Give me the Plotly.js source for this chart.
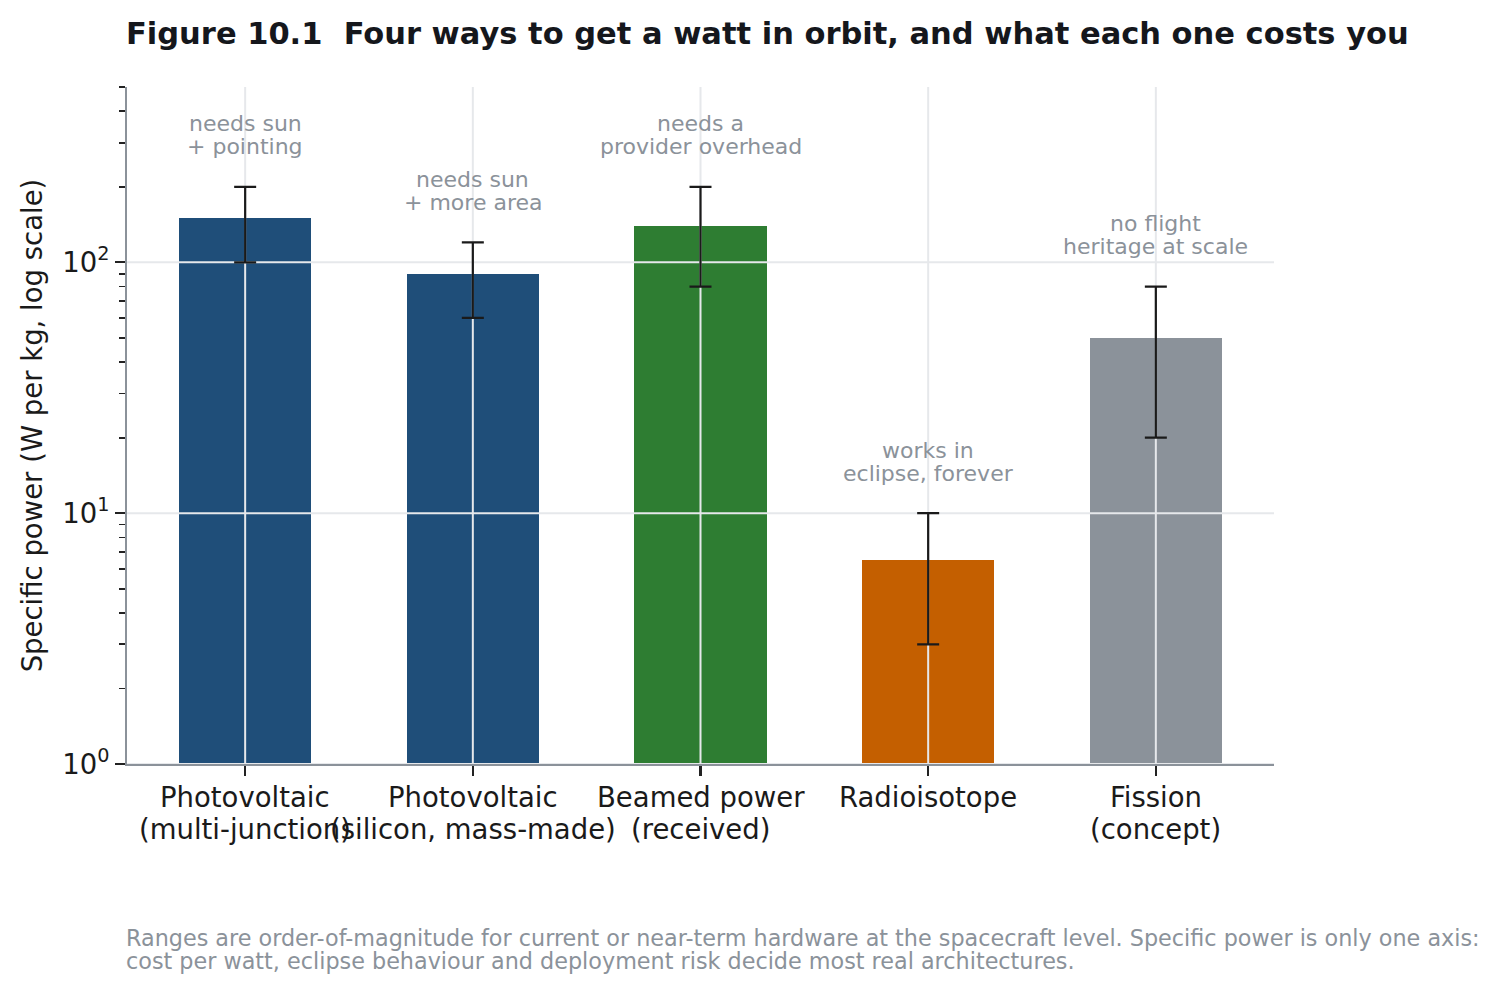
<!DOCTYPE html>
<html>
<head>
<meta charset="utf-8">
<script src="https://cdn.plot.ly/plotly-3.0.1.min.js"></script>
<style>
html,body{margin:0;padding:0;background:#fff;}
#chart{width:1500px;height:992px;}
</style>
</head>
<body>
<div id="chart"></div>
<script>
// ---- data ----
const categories = [
  ["Photovoltaic", "(multi-junction)"],
  ["Photovoltaic", "(silicon, mass-made)"],
  ["Beamed power", "(received)"],
  ["Radioisotope"],
  ["Fission", "(concept)"]
];
const specificPower = [150, 90, 140, 6.5, 50];
const rangeLow = [100, 60, 80, 3, 20];
const rangeHigh = [200, 120, 200, 10, 80];
const barColors = ["#1f4e79", "#1f4e79", "#2e7d32", "#c45f00", "#8b929a"];
const notes = [
  ["needs sun", "+ pointing"],
  ["needs sun", "+ more area"],
  ["needs a", "provider overhead"],
  ["works in", "eclipse, forever"],
  ["no flight", "heritage at scale"]
];
const yMajorTicks = [1, 10, 100];
const yMajorLabels = ["10<sup>0</sup>", "10<sup>1</sup>", "10<sup>2</sup>"];
const yMinorTicks = [2,3,4,5,6,7,8,9,20,30,40,50,60,70,80,90,200,300,400,500];
const yTop = 500;
const titleText = "Figure 10.1  Four ways to get a watt in orbit, and what each one costs you";
const yTitle = "Specific power (W per kg, log scale)";
const footerLines = [
  "Ranges are order-of-magnitude for current or near-term hardware at the spacecraft level. Specific power is only one axis:",
  "cost per watt, eclipse behaviour and deployment risk decide most real architectures."
];

// ---- layout constants ----
const W = 1500, H = 992;
const M = {l:127, r:226, t:87, b:228};
const plotH = H - M.t - M.b;
const axisY = H - M.b;
const FONT = "DejaVu Sans, Verdana, sans-serif";
const GRID = "#e6e8eb";
const xIdx = categories.map((_, i) => i);
const xRange = [-0.519, categories.length - 1 + 0.519];

// grid lines drawn above bars but below error bars
const gx = [], gy = [];
xIdx.forEach(i => { gx.push(i, i, null); gy.push(yMajorTicks[0], yTop, null); });
yMajorTicks.forEach(v => { gx.push(xRange[0], xRange[1], null); gy.push(v, v, null); });

const traces = [
  {
    type: "bar", x: xIdx, y: specificPower, width: 0.58,
    marker: {color: barColors, line: {width: 0}},
    hoverinfo: "skip", showlegend: false
  },
  {
    type: "scatter", mode: "lines", x: gx, y: gy,
    line: {color: GRID, width: 2}, hoverinfo: "skip", showlegend: false,
    cliponaxis: true
  },
  {
    type: "scatter", mode: "markers", x: xIdx, y: specificPower,
    marker: {size: 1, opacity: 0},
    error_y: {
      type: "data", symmetric: false,
      array: rangeHigh.map((h, i) => h - specificPower[i]),
      arrayminus: rangeLow.map((l, i) => specificPower[i] - l),
      color: "#1a1a1a", thickness: 2.2, width: 11
    },
    hoverinfo: "skip", showlegend: false, cliponaxis: false
  }
];

const annotations = [];
// notes above each error bar
notes.forEach((lines, i) => {
  const shifts = [63, 40];
  lines.forEach((t, j) => {
    annotations.push({
      x: i, y: Math.log10(rangeHigh[i]), xref: "x", yref: "y",
      text: t, showarrow: false, xanchor: "center", yanchor: "middle",
      yshift: shifts[j],
      font: {family: FONT, size: 22, color: "#8b929a"}
    });
  });
});
// category labels (one annotation per line for matplotlib-like line spacing)
const catLineY = [797, 829];
categories.forEach((lines, i) => {
  lines.forEach((t, j) => {
    annotations.push({
      x: i, xref: "x", xanchor: "center",
      y: -(catLineY[j] - axisY) / plotH, yref: "paper", yanchor: "middle",
      text: t, showarrow: false,
      font: {family: FONT, size: 27.5, color: "#1a1a1a"}
    });
  });
});
// footer
const footerY = [938, 961];
footerLines.forEach((t, j) => {
  annotations.push({
    x: 0, xref: "paper", xanchor: "left", xshift: -3,
    y: -(footerY[j] - axisY) / plotH, yref: "paper", yanchor: "middle",
    text: t, showarrow: false, align: "left",
    font: {family: FONT, size: 22.3, color: "#8b929a"}
  });
});

const layout = {
  width: W, height: H,
  margin: M,
  paper_bgcolor: "#ffffff", plot_bgcolor: "#ffffff",
  font: {family: FONT, color: "#1a1a1a"},
  title: {
    text: "<b>" + titleText + "</b>",
    x: (M.l - 1) / W, xanchor: "left", xref: "container",
    y: 1 - 33 / H, yanchor: "middle", yref: "container",
    font: {family: FONT, size: 30.5, color: "#15171c"}
  },
  xaxis: {
    range: xRange, tickmode: "array", tickvals: xIdx,
    showticklabels: false,
    showgrid: false, zeroline: false,
    showline: true, linecolor: "#8b929a", linewidth: 2,
    ticks: "outside", ticklen: 10, tickwidth: 2.2, tickcolor: "#222222",
    fixedrange: true
  },
  yaxis: {
    type: "log", range: [0, Math.log10(yTop)],
    tickmode: "array", tickvals: yMajorTicks, ticktext: yMajorLabels,
    showgrid: false, zeroline: false,
    showline: true, linecolor: "#8b929a", linewidth: 2,
    ticks: "outside", ticklen: 10, tickwidth: 2.2, tickcolor: "#222222",
    tickfont: {family: FONT, size: 27.5, color: "#1a1a1a"},
    minor: {tickmode: "array", tickvals: yMinorTicks, ticks: "outside", ticklen: 5.6, tickwidth: 1.7, tickcolor: "#222222", showgrid: false},
    title: {text: yTitle, font: {family: FONT, size: 27.5, color: "#1a1a1a"}, standoff: 12},
    fixedrange: true
  },
  annotations: annotations,
  showlegend: false,
  bargap: 0
};

Plotly.newPlot("chart", traces, layout, {displayModeBar: false, staticPlot: true});
</script>
</body>
</html>
